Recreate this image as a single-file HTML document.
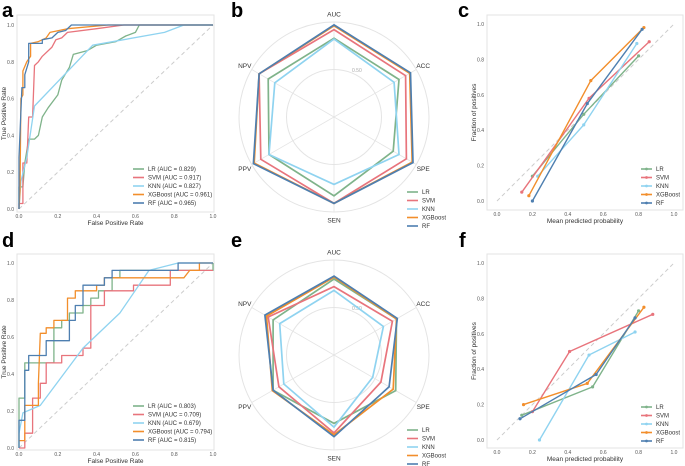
<!DOCTYPE html>
<html><head><meta charset="utf-8">
<style>
body{margin:0;background:#fff;width:685px;height:466px;overflow:hidden;font-family:"Liberation Sans",sans-serif}
svg{position:absolute;left:0;top:0}
text{font-family:"Liberation Sans",sans-serif}
</style></head><body>
<svg id="fig" width="685" height="466"></svg>
<script>
const models=["LR","SVM","KNN","XGBoost","RF"];
const colors=["#7fb38a","#e8747c","#8fd3f0","#f28e2b","#4e7fb0"];
const rocAucA=["0.829","0.917","0.827","0.961","0.965"];
const rocAucD=["0.803","0.709","0.679","0.794","0.815"];
const ticks=["0.0","0.2","0.4","0.6","0.8","1.0"];
const tickVals=[0,0.2,0.4,0.6,0.8,1.0];
const radarAxes=["AUC","ACC","SPE","SEN","PPV","NPV"];
// ROC A
const rocA_LR_x=[0,0,0.02,0.03,0.05,0.08,0.1,0.12,0.15,0.2,0.22,0.26,0.28,0.35,0.4,0.5,0.55,0.6,0.62,1];
const rocA_LR_y=[0,0.12,0.12,0.25,0.38,0.38,0.4,0.5,0.55,0.62,0.7,0.77,0.84,0.86,0.89,0.91,0.94,0.96,1,1];
const rocA_SVM_x=[0,0,0.02,0.02,0.04,0.05,0.07,0.08,0.1,0.12,0.17,0.19,0.22,0.25,0.4,0.54,1];
const rocA_SVM_y=[0,0.03,0.03,0.25,0.25,0.5,0.5,0.78,0.8,0.83,0.88,0.92,0.93,0.96,0.98,1,1];
const rocA_KNN_x=[0,0.01,0.04,0.08,0.38,0.75,0.85,1];
const rocA_KNN_y=[0,0.15,0.28,0.56,0.89,0.96,1,1];
const rocA_XGB_x=[0,0.005,0.01,0.02,0.02,0.04,0.06,0.06,0.1,0.14,0.16,0.25,0.46,1];
const rocA_XGB_y=[0,0.1,0.6,0.62,0.75,0.8,0.83,0.9,0.91,0.93,0.96,0.98,1,1];
const rocA_RF_x=[0,0,0.015,0.03,0.03,0.05,0.05,0.12,0.12,0.17,0.2,0.24,0.27,1];
const rocA_RF_y=[0,0.28,0.66,0.66,0.73,0.8,0.9,0.9,0.92,0.93,0.96,0.97,1,1];
// ROC D
const rocD_LR_x=[0,0,0.03,0.03,0.18,0.18,0.22,0.22,0.26,0.26,0.33,0.33,0.37,0.37,0.41,0.41,0.48,0.48,0.52,0.52,1,1];
const rocD_LR_y=[0,0.27,0.27,0.46,0.46,0.65,0.65,0.69,0.69,0.73,0.73,0.77,0.77,0.81,0.81,0.85,0.85,0.92,0.92,0.96,0.96,1];
const rocD_SVM_x=[0,0.03,0.03,0.07,0.07,0.11,0.11,0.14,0.14,0.22,0.22,0.33,0.33,0.37,0.37,0.44,0.44,0.59,0.59,0.78,0.78,1];
const rocD_SVM_y=[0,0,0.08,0.08,0.27,0.27,0.35,0.35,0.46,0.46,0.5,0.5,0.54,0.54,0.77,0.77,0.85,0.85,0.88,0.88,0.96,0.96];
const rocD_KNN_x=[0,0.02,0.11,0.33,0.52,0.67,0.82,1];
const rocD_KNN_y=[0.08,0.19,0.23,0.54,0.73,0.96,1,1];
const rocD_XGB_x=[0,0.03,0.03,0.1,0.1,0.11,0.14,0.14,0.18,0.18,0.25,0.25,0.29,0.29,0.4,0.4,0.44,0.44,0.85,0.88,0.93,0.93,1];
const rocD_XGB_y=[0.04,0.04,0.23,0.23,0.35,0.62,0.62,0.65,0.65,0.69,0.69,0.81,0.81,0.85,0.85,0.88,0.88,0.92,0.92,0.96,0.96,1,1];
const rocD_RF_x=[0,0,0.03,0.03,0.05,0.05,0.14,0.14,0.26,0.26,0.29,0.29,0.33,0.33,0.44,0.44,0.48,0.48,0.82,0.82,1];
const rocD_RF_y=[0,0.15,0.15,0.42,0.42,0.5,0.5,0.58,0.58,0.69,0.69,0.77,0.77,0.88,0.88,0.92,0.92,0.96,0.96,1,1];
// Radar
const radarB_LR=[0.83,0.79,0.72,0.83,0.79,0.80];
const radarB_SVM=[0.92,0.87,0.88,0.91,0.89,0.91];
const radarB_KNN=[0.82,0.73,0.79,0.71,0.79,0.72];
const radarB_XGB=[0.96,0.92,0.95,0.91,0.97,0.91];
const radarB_RF=[0.97,0.93,0.96,0.91,0.98,0.91];
const radarE_LR=[0.80,0.76,0.75,0.72,0.74,0.74];
const radarE_SVM=[0.72,0.71,0.57,0.82,0.67,0.80];
const radarE_KNN=[0.68,0.60,0.47,0.76,0.61,0.66];
const radarE_XGB=[0.82,0.76,0.72,0.84,0.75,0.82];
const radarE_RF=[0.83,0.77,0.67,0.86,0.74,0.84];
// Calibration
const calC_LR_x=[0.2,0.49,0.8], calC_LR_y=[0.14,0.49,0.82];
const calC_SVM_x=[0.14,0.52,0.86], calC_SVM_y=[0.05,0.58,0.9];
const calC_KNN_x=[0.23,0.49,0.79], calC_KNN_y=[0.14,0.43,0.89];
const calC_XGB_x=[0.18,0.53,0.83], calC_XGB_y=[0.03,0.68,0.98];
const calC_RF_x=[0.2,0.51,0.82], calC_RF_y=[0.0,0.55,0.97];
const calF_LR_x=[0.14,0.54,0.8], calF_LR_y=[0.14,0.30,0.73];
const calF_SVM_x=[0.2,0.41,0.88], calF_SVM_y=[0.16,0.5,0.71];
const calF_KNN_x=[0.24,0.52,0.78], calF_KNN_y=[0.0,0.48,0.61];
const calF_XGB_x=[0.15,0.51,0.83], calF_XGB_y=[0.2,0.32,0.75];
const calF_RF_x=[0.13,0.56,0.78], calF_RF_y=[0.12,0.37,0.69];

const NS="http://www.w3.org/2000/svg";
const svg=document.getElementById('fig');
function el(tag,attrs,parent){const e=document.createElementNS(NS,tag);for(const k in attrs)e.setAttribute(k,attrs[k]);(parent||svg).appendChild(e);return e;}
function txt(s,x,y,size,attrs,parent){const t=el('text',Object.assign({x:x,y:y,'font-size':size,fill:'#333'},attrs||{}),parent);t.textContent=s;return t;}

function letter(s,x,y){const t=txt(s,x,y,20,{'font-weight':'bold',fill:'#000'});

}

function xyPanel(id,frame,x0,x1,y0,y1,xTitle,yTitle,series,legendLabels,markers,legX,legY){
  const g=el('g',{});
  
  
  const sx=v=>x0+(x1-x0)*v, sy=v=>y0+(y1-y0)*v;
  const fr=el('rect',{x:frame[0],y:frame[1],width:frame[2]-frame[0],height:frame[3]-frame[1],fill:'none',stroke:'#e3e3e3','stroke-width':1},g);
  
  
  tickVals.forEach((v,i)=>{
    const a=txt(ticks[i],sx(v),frame[3]+6,5,{'text-anchor':'middle',fill:'#555'},g);
    
    
    const b=txt(ticks[i],frame[0]-3,sy(v)+2,5,{'text-anchor':'end',fill:'#555'},g);
    
    
  });
  const xt=txt(xTitle,(frame[0]+frame[2])/2,frame[3]+13,6.5,{'text-anchor':'middle'},g);
  
  
  const yx=frame[0]-11, yy=(frame[1]+frame[3])/2;
  const yt=txt(yTitle,yx,yy,6.5,{'text-anchor':'middle',transform:'rotate(-90 '+yx+' '+yy+')'},g);
  
  
  const d=el('line',{x1:sx(0),y1:sy(0),x2:sx(1),y2:sy(1),stroke:'#ccc','stroke-width':1,'stroke-dasharray':'4 3'},g);
  
  
  series.forEach((s,i)=>{
    const pts=s[0].map((v,j)=>sx(v).toFixed(1)+','+sy(s[1][j]).toFixed(1)).join(' ');
    const p=el('polyline',{points:pts,fill:'none',stroke:colors[i],'stroke-width':markers?1.4:1.3,'stroke-linejoin':'round'},g);
    
    
    if(markers){s[0].forEach((v,j)=>{
      const c=el('circle',{cx:sx(v),cy:sy(s[1][j]),r:1.6,fill:colors[i]},g);
      
      
    });}
  });
  legend(g,legendLabels,legX,legY,markers);
}
function legend(g,labels,lx,ly,markers){
  labels.forEach((s,i)=>{
    const y=ly+i*8.5;
    const l=el('line',{x1:lx,y1:y,x2:lx+11,y2:y,stroke:colors[i],'stroke-width':1.6},g);
    
    
    if(markers){const c=el('circle',{cx:lx+5.5,cy:y,r:1.4,fill:colors[i]},g);
      
      }
    const t=txt(s,lx+15,y+2,6,{fill:'#333'},g);
    
    
  });
}
function radar(id,cx,cy,R,data,ringLabelPos){
  const g=el('g',{});
  
  
  [0.5,1].forEach(v=>{const c=el('circle',{cx:cx,cy:cy,r:R*v,fill:'none',stroke:'#e4e4e4','stroke-width':1},g);
    
    });
  const ang=i=>-Math.PI/2+i*Math.PI/3;
  radarAxes.forEach((a,i)=>{
    const l=el('line',{x1:cx,y1:cy,x2:cx+R*Math.cos(ang(i)),y2:cy+R*Math.sin(ang(i)),stroke:'#e4e4e4','stroke-width':0.8},g);
    
    
    const lr=R+8;
    const t=txt(a,cx+lr*Math.cos(ang(i)),cy+lr*Math.sin(ang(i))+2.5,6.5,{'text-anchor':'middle',fill:'#333'},g);
    
    
  });
  const rl=txt('0.50',ringLabelPos[0],ringLabelPos[1],5,{fill:'#aaa'},g);
  
  
  data.forEach((vals,k)=>{
    const pts=vals.map((v,i)=>(cx+R*v*Math.cos(ang(i))).toFixed(1)+','+(cy+R*v*Math.sin(ang(i))).toFixed(1)).join(' ');
    const p=el('polygon',{points:pts,fill:'none',stroke:colors[k],'stroke-width':1.7,'stroke-linejoin':'miter'},g);
    
    
  });
  legend(g,models,cx+73,cy+75,false);
}

letter('a',2,17);letter('b',231,17);letter('c',458,17);
letter('d',2,247);letter('e',231,247);letter('f',459,247);

const legA=models.map((m,i)=>m+' (AUC = '+rocAucA[i]+')');
const legD=models.map((m,i)=>m+' (AUC = '+rocAucD[i]+')');
xyPanel('roc-panel-a',[17,15,214,212],19,213,209,25,'False Positive Rate','True Positive Rate',
 [[rocA_LR_x,rocA_LR_y],[rocA_SVM_x,rocA_SVM_y],[rocA_KNN_x,rocA_KNN_y],[rocA_XGB_x,rocA_XGB_y],[rocA_RF_x,rocA_RF_y]],legA,false,133,169);
xyPanel('roc-panel-d',[17,254,214,450],19,213,448,263,'False Positive Rate','True Positive Rate',
 [[rocD_LR_x,rocD_LR_y],[rocD_SVM_x,rocD_SVM_y],[rocD_KNN_x,rocD_KNN_y],[rocD_XGB_x,rocD_XGB_y],[rocD_RF_x,rocD_RF_y]],legD,false,133,406);
xyPanel('calibration-panel-c',[487,15,683,210],497,674,201,24,'Mean predicted probability','Fraction of positives',
 [[calC_LR_x,calC_LR_y],[calC_SVM_x,calC_SVM_y],[calC_KNN_x,calC_KNN_y],[calC_XGB_x,calC_XGB_y],[calC_RF_x,calC_RF_y]],models,true,641,169);
xyPanel('calibration-panel-f',[487,254,683,448],497,674,440,263,'Mean predicted probability','Fraction of positives',
 [[calF_LR_x,calF_LR_y],[calF_SVM_x,calF_SVM_y],[calF_KNN_x,calF_KNN_y],[calF_XGB_x,calF_XGB_y],[calF_RF_x,calF_RF_y]],models,true,641,407);
radar('radar-panel-b',334,117,95,[radarB_LR,radarB_SVM,radarB_KNN,radarB_XGB,radarB_RF],[352,72]);
radar('radar-panel-e',334,355,95,[radarE_LR,radarE_SVM,radarE_KNN,radarE_XGB,radarE_RF],[352,310]);
</script>
</body></html>
